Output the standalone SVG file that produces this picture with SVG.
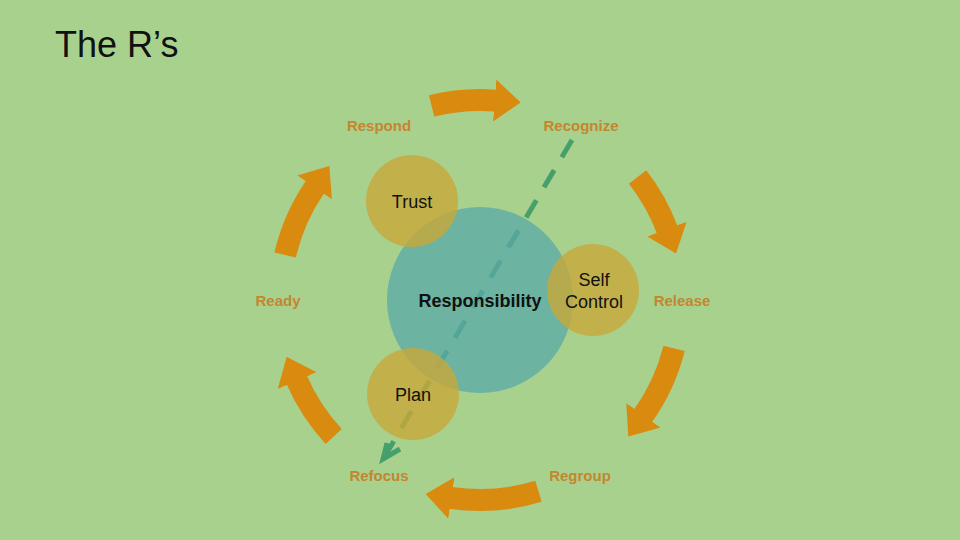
<svg xmlns="http://www.w3.org/2000/svg" width="960" height="540" viewBox="0 0 960 540">
  <defs>
    <style>
      .lbl { font-family: "Liberation Sans", Arial, sans-serif; font-weight: bold; font-size: 15px; fill: #c4862e; text-anchor: middle; }
      .in { font-family: "Liberation Sans", Arial, sans-serif; font-size: 18px; fill: #111; text-anchor: middle; }
      .arc { fill: none; stroke: #d98b10; stroke-width: 22; marker-end: url(#head); }
      .small { fill: #c8a83a; fill-opacity: 0.8; }
    </style>
    <marker id="head" viewBox="0 0 26 42" markerUnits="userSpaceOnUse" markerWidth="26" markerHeight="42" refX="1" refY="21" orient="auto">
      <path d="M0,0 L26,21 L0,42 z" fill="#d98b10"/>
    </marker>
  </defs>
  <rect width="960" height="540" fill="#a9d18e"/>
  <text x="55" y="57" font-family="'Liberation Sans', Arial, sans-serif" font-size="36" fill="#111">The R’s</text>

  <g id="connectors">
    <path class="arc" d="M431.6,105.9 A200,200 0 0 1 495.7,100.6"/>
    <path class="arc" d="M637.6,176.9 A200,200 0 0 1 667.3,230.0"/>
    <path class="arc" d="M674.1,348.4 A200,200 0 0 1 642.8,416.1"/>
    <path class="arc" d="M538.5,491.3 A200,200 0 0 1 450.4,497.8"/>
    <path class="arc" d="M333.7,436.4 A200,200 0 0 1 296.6,379.7"/>
    <path class="arc" d="M285.1,255.0 A200,200 0 0 1 315.2,186.7"/>
    <line x1="572" y1="140" x2="385" y2="456" stroke="#45a06c" stroke-width="5" stroke-dasharray="20 15"/>
    <polyline points="387,443 383,459 400,449" fill="none" stroke="#45a06c" stroke-width="5" stroke-linejoin="miter"/>
  </g>

  <g id="responsibility">
    <circle cx="480" cy="300" r="93" fill="#5aa8a8" fill-opacity="0.75"/>
    <text class="in" x="480" y="307" font-weight="bold">Responsibility</text>
  </g>
  <g id="trust">
    <circle class="small" cx="412" cy="201" r="46"/>
    <text class="in" x="412" y="208">Trust</text>
  </g>
  <g id="selfcontrol">
    <circle class="small" cx="593" cy="290" r="46"/>
    <text class="in" x="594" y="286">Self</text>
    <text class="in" x="594" y="308">Control</text>
  </g>
  <g id="plan">
    <circle class="small" cx="413" cy="394" r="46"/>
    <text class="in" x="413" y="401">Plan</text>
  </g>

  <g id="respond"><text class="lbl" x="379" y="131">Respond</text></g>
  <g id="recognize"><text class="lbl" x="581" y="131">Recognize</text></g>
  <g id="ready"><text class="lbl" x="278" y="306">Ready</text></g>
  <g id="release"><text class="lbl" x="682" y="306">Release</text></g>
  <g id="refocus"><text class="lbl" x="379" y="481">Refocus</text></g>
  <g id="regroup"><text class="lbl" x="580" y="481">Regroup</text></g>
</svg>
